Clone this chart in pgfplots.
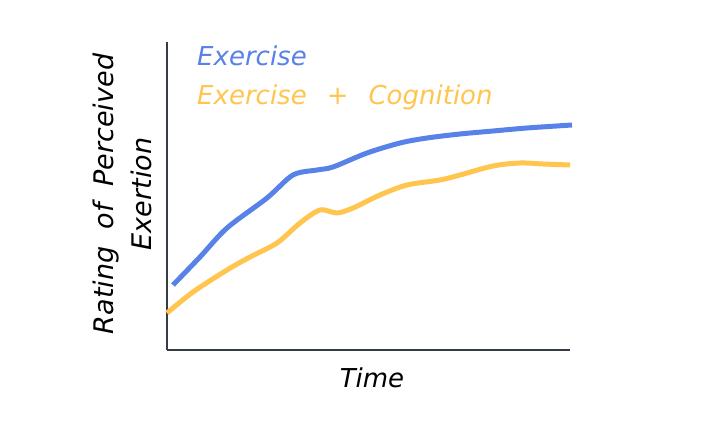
\documentclass[border=0pt]{standalone}
\usepackage{pgfplots}
\pgfplotsset{compat=1.18}
\usepackage{fontspec}
\setmainfont{DejaVu Sans}
\definecolor{cblue}{HTML}{5882E8}
\definecolor{cyellow}{HTML}{FFC54F}
\definecolor{caxis}{HTML}{363C46}
\begin{document}
\begin{tikzpicture}[x=1pt,y=1pt]
\useasboundingbox (-167,-83) rectangle (539,350);
\begin{axis}[
  at={(0,0)}, anchor=origin,
  scale only axis, width=403pt, height=308pt,
  xmin=0, xmax=403, ymin=0, ymax=308,
  axis lines=left, axis line style={-, caxis, line width=2pt},
  xtick=\empty, ytick=\empty,
  clip=false,
]
\addplot[cblue, line width=5pt, smooth, tension=0.5] coordinates {
(6,65) (33,93) (60,122) (100,152) (126,175) (150,180) (166,183)
(200,197) (233,207) (260,212) (293,216) (326,219) (360,222) (405,225)};
\addplot[cyellow, line width=5pt, smooth, tension=0.5] coordinates {
(0,37) (26,58) (60,80) (83,93) (110,107) (133,127) (153,140) (170,137)
(186,142) (213,155) (240,165) (273,170) (293,175) (326,184) (353,187)
(376,186) (403,185)};
\node[anchor=base west, text=cblue, inner sep=0pt] at (axis cs:30,284) {\fontsize{26}{30}\selectfont\itshape Exercise};
\node[anchor=base west, text=cyellow, inner sep=0pt] at (axis cs:30,245) {\fontsize{26}{30}\selectfont\itshape Exercise\hspace{20pt}+\hspace{20pt}Cognition};
\node[anchor=base, inner sep=0pt] at (axis cs:205,-37) {\fontsize{26}{30}\selectfont\itshape Time};
\node[rotate=90, align=center, inner sep=0pt, font=\fontsize{27}{38}\selectfont\itshape] at (axis cs:-45,156) {Rating\hspace{17pt}of\hspace{17pt}Perceived\\Exertion};
\end{axis}
\end{tikzpicture}
\end{document}
